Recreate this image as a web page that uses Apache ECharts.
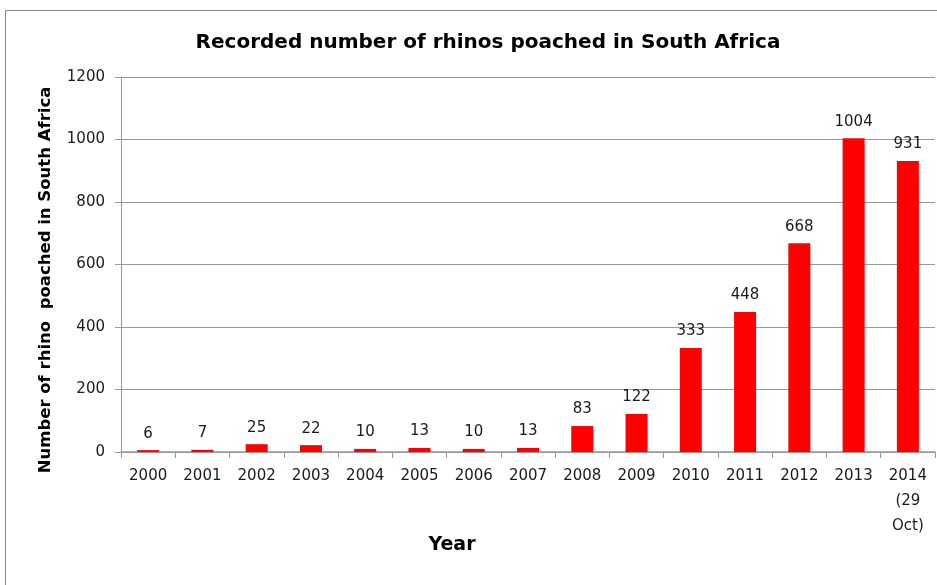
<!DOCTYPE html>
<html><head><meta charset="utf-8">
<script src="https://cdn.jsdelivr.net/npm/echarts@6/dist/echarts.min.js"></script>
<style>html,body{margin:0;padding:0;background:#fff}#c{width:937px;height:585px}</style>
</head><body><div id="c"></div>
<script>
const categories = ['2000','2001','2002','2003','2004','2005','2006','2007','2008','2009','2010','2011','2012','2013','2014\n(29\nOct)'];
const poached = [6,7,25,22,10,13,10,13,83,122,333,448,668,1004,931];
const yTicks = {min:0, max:1200, interval:200};
const titleText = 'Recorded number of rhinos poached in South Africa';
const yTitle = 'Number of rhino  poached in South Africa';
const xTitle = 'Year';

const chart = echarts.init(document.getElementById('c'), null, {renderer:'canvas'});
const font = 'DejaVu Sans';
chart.setOption({
  animation:false,
  backgroundColor:'#fff',
  graphic:[
    {type:'rect', shape:{x:5.5,y:10.5,width:940,height:600}, style:{fill:'none', stroke:'#888', lineWidth:1}},
    {type:'text', x:452, y:545, style:{text:xTitle, x:0, y:0, align:'center', verticalAlign:'middle', font:'bold 19px "DejaVu Sans"', fill:'#000'}},
    {type:'text', x:46, y:280, rotation:Math.PI/2, style:{text:yTitle, x:0, y:0, align:'center', verticalAlign:'middle', font:'bold 16.5px "DejaVu Sans"', fill:'#000'}}
  ],
  title:{text:titleText, left:483, textAlign:'center', top:28, textStyle:{fontFamily:font, fontSize:20, fontWeight:'bold', color:'#000'}},
  grid:{left:121, right:2, top:77, bottom:133},
  xAxis:{type:'category', data:categories,
    axisLine:{lineStyle:{color:'#999', width:1.5}}, axisTick:{show:true, length:6, lineStyle:{color:'#999'}},
    axisLabel:{fontFamily:font, fontSize:15, color:'#1a1a1a', margin:12, lineHeight:25}},
  yAxis:{type:'value', min:yTicks.min, max:yTicks.max, interval:yTicks.interval,
    axisLine:{show:true, lineStyle:{color:'#999'}}, axisTick:{show:true, length:6, lineStyle:{color:'#999'}},
    splitLine:{lineStyle:{color:'#999', width:1}},
    axisLabel:{fontFamily:font, fontSize:15, color:'#1a1a1a', margin:16, formatter:v=>String(v)}},
  series:[{type:'bar', data:poached, barWidth:22, itemStyle:{color:'#ff0000'},
    label:{show:true, position:'top', distance:9, fontFamily:font, fontSize:15, color:'#1a1a1a'}}]
});
</script></body></html>
